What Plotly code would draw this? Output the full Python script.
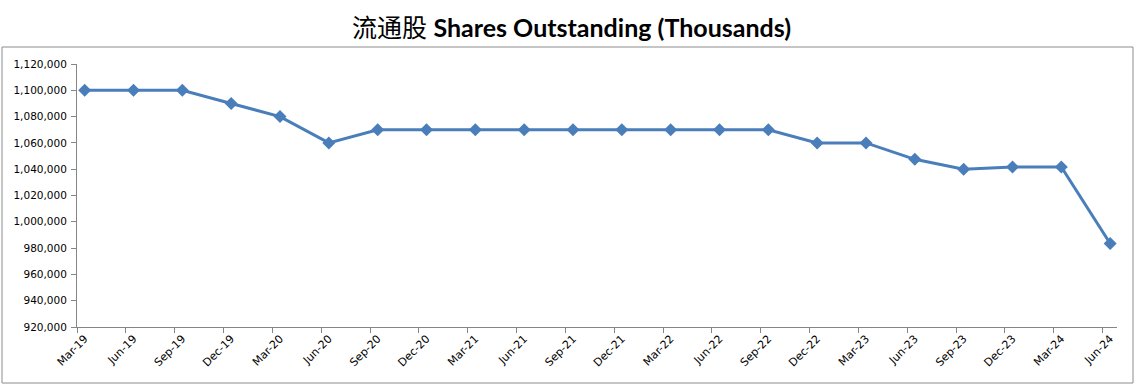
import plotly.graph_objects as go

categories = ["Mar-19", "Jun-19", "Sep-19", "Dec-19", "Mar-20", "Jun-20", "Sep-20", "Dec-20",
              "Mar-21", "Jun-21", "Sep-21", "Dec-21", "Mar-22", "Jun-22", "Sep-22", "Dec-22",
              "Mar-23", "Jun-23", "Sep-23", "Dec-23", "Mar-24", "Jun-24"]
shares = [1100000, 1100000, 1100000, 1090000, 1080000, 1060000, 1070000, 1070000,
          1070000, 1070000, 1070000, 1070000, 1070000, 1070000, 1070000, 1060000,
          1060000, 1047500, 1040000, 1041700, 1041700, 983500]
y_ticks = list(range(920000, 1120001, 20000))

xs = list(range(len(categories)))

fig = go.Figure()
fig.add_trace(go.Scatter(
    x=xs, y=shares, mode="lines+markers",
    line=dict(color="#4A7EBB", width=3),
    marker=dict(symbol="diamond", size=10, color="#4A7EBB"),
    showlegend=False,
))

W, H = 1137, 387
L, R, T, B = 77, 20, 64, 60
pw, ph = W - L - R, H - T - B

def px_to_paper(x, y):
    return (x - L) / pw, (H - B - y) / ph

x0, y0 = px_to_paper(2, 383)
x1, y1 = px_to_paper(1133, 47)

fig.add_shape(type="rect", xref="paper", yref="paper", x0=x0, y0=y0, x1=x1, y1=y1,
              line=dict(color="#8C8C8C", width=1), layer="below")

fig.update_layout(
    width=W, height=H,
    margin=dict(l=L, r=R, t=T, b=B, autoexpand=False),
    paper_bgcolor="white", plot_bgcolor="white",
    title=dict(
        text="<span style=\"font-family:'Noto Sans CJK SC';font-weight:normal\">流通股</span> <b>Shares Outstanding (Thousands)</b>",
        x=(571.5 - L) / pw, xanchor="center", xref="paper", y=(H - 28) / H, yanchor="middle",
        font=dict(family="Lato", size=25, color="black"),
    ),
    font=dict(family="DejaVu Sans", size=10.5, color="black"),
)

fig.update_xaxes(
    range=[-0.157, 21.14], automargin=False,
    tickmode="array", tickvals=xs, ticktext=categories,
    tickangle=-45, ticks="", showgrid=False, zeroline=False,
    showline=True, linecolor="#868686", linewidth=1,
    tickfont=dict(family="DejaVu Sans", size=11, color="black"),
    minor=dict(tick0=-0.157, dtick=1, ticks="outside", ticklen=5, tickcolor="#868686", showgrid=False),
)
fig.update_yaxes(
    range=[920000, 1120000], automargin=False,
    tickmode="array", tickvals=y_ticks, tickformat=",d",
    ticks="outside", ticklen=5, tickcolor="#868686", ticklabelstandoff=2,
    showgrid=False, zeroline=False,
    showline=True, linecolor="#868686", linewidth=1,
    tickfont=dict(family="DejaVu Sans", size=10.5, color="black"),
)

fig.write_html("out.html", config={"displayModeBar": False},
               post_script="document.body.style.margin='0px';document.body.style.overflow='hidden';")
